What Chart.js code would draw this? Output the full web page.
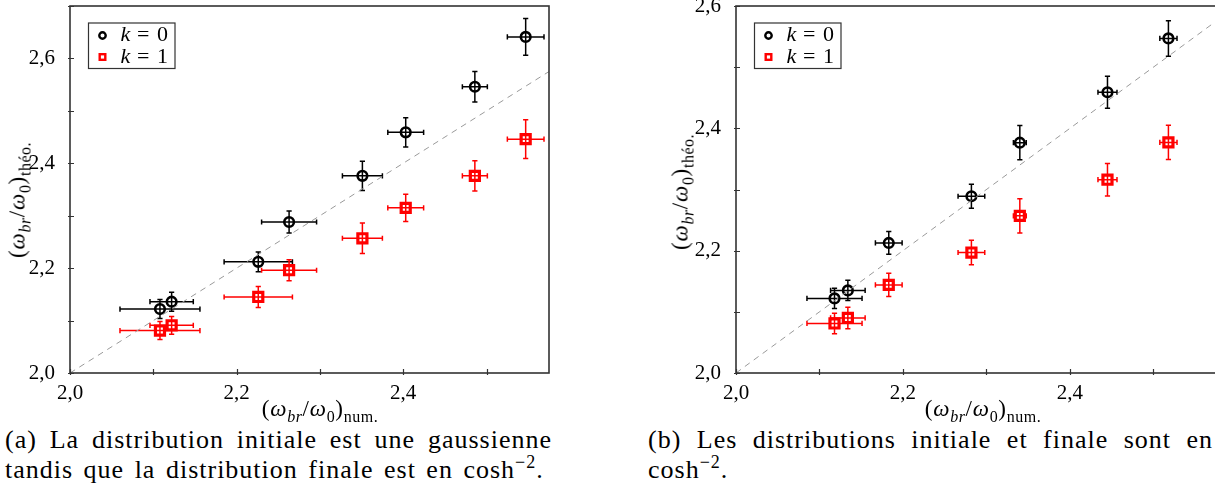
<!DOCTYPE html>
<html>
<head>
<meta charset="utf-8">
<script src="https://cdn.jsdelivr.net/npm/chart.js@4"></script>
<style>
  html, body { margin: 0; padding: 0; background: #fff; }
  body { width: 1215px; height: 502px; overflow: hidden; position: relative; font-family: 'Liberation Serif', serif; color: #000; }
  canvas { position: absolute; }
  .axis-title { position: absolute; font-size: 23px; line-height: 1; white-space: nowrap; letter-spacing: 0.8px; }
  .axis-title .sub { font-size: 16px; position: relative; top: 6px; letter-spacing: 0.5px; }
  .ytitle { transform: translate(-50%, -50%) rotate(-90deg); }
  .xtitle { transform: translate(-50%, -50%); }
  .caption { position: absolute; font-size: 26px; line-height: 30px; letter-spacing: 1px; word-spacing: 3px; }
  .caption div { white-space: nowrap; }
  .caption .just { text-align: justify; text-align-last: justify; white-space: normal; }
  sup { font-size: 18px; line-height: 0; }
</style>
</head>
<body>

<canvas id="chartA" width="580" height="440" style="left:0; top:-20px;"></canvas>
<canvas id="chartB" width="600" height="440" style="left:640px; top:-20px;"></canvas>

<div class="axis-title ytitle" style="left:17px; top:200px;">(<i>ω</i><span class="sub"><i>br</i></span>/<i>ω</i><span class="sub">0</span>)<span class="sub">théo.</span></div>
<div class="axis-title xtitle" style="left:320px; top:408px;">(<i>ω</i><span class="sub"><i>br</i></span>/<i>ω</i><span class="sub">0</span>)<span class="sub">num.</span></div>
<div class="axis-title ytitle" style="left:680px; top:192px;">(<i>ω</i><span class="sub"><i>br</i></span>/<i>ω</i><span class="sub">0</span>)<span class="sub">théo.</span></div>
<div class="axis-title xtitle" style="left:983px; top:408px;">(<i>ω</i><span class="sub"><i>br</i></span>/<i>ω</i><span class="sub">0</span>)<span class="sub">num.</span></div>

<div class="caption" style="left:5px; top:425px; width:547px;">
  <div class="just">(a) La distribution initiale est une gaussienne</div>
  <div>tandis que la distribution finale est en cosh<sup>−2</sup>.</div>
</div>
<div class="caption" style="left:648px; top:425px; width:565px;">
  <div class="just">(b) Les distributions initiale et finale sont en</div>
  <div>cosh<sup>−2</sup>.</div>
</div>

<script>
// Panel (a): gaussian initial distribution, cosh^-2 final
const numA = [2.108, 2.122, 2.226, 2.263, 2.351, 2.403, 2.486, 2.547];
const numErrA = [0.048, 0.026, 0.041, 0.033, 0.024, 0.0215, 0.015, 0.022];
const theoK0A = [2.122, 2.136, 2.212, 2.288, 2.376, 2.459, 2.546, 2.641];
const theoErrK0A = [0.018, 0.018, 0.019, 0.021, 0.028, 0.028, 0.029, 0.035];
const theoK1A = [2.081, 2.091, 2.145, 2.196, 2.257, 2.315, 2.376, 2.446];
const theoErrK1A = [0.017, 0.017, 0.020, 0.020, 0.029, 0.026, 0.029, 0.037];

// Panel (b): cosh^-2 initial and final
const numB = [2.118, 2.134, 2.183, 2.282, 2.340, 2.445, 2.518];
const numErrB = [0.033, 0.0207, 0.016, 0.016, 0.0077, 0.0114, 0.0103];
const theoK0B = [2.122, 2.135, 2.2126, 2.289, 2.3765, 2.459, 2.547];
const theoErrK0B = [0.0165, 0.0165, 0.0186, 0.0197, 0.028, 0.026, 0.029];
const theoK1B = [2.081, 2.090, 2.144, 2.197, 2.257, 2.316, 2.377];
const theoErrK1B = [0.0167, 0.0175, 0.019, 0.020, 0.028, 0.0265, 0.028];

// y = x reference line
const diagonal = [2.0, 2.575];

const legendLabels = ['0', '1'];
const RED = '#ff0000';
const FONT = "'Liberation Serif', serif";

// error bars, drawn through each marker
const errorBars = {
    id: 'errorBars',
    beforeDatasetsDraw(chart) {
        const { ctx, scales: { x, y } } = chart;
        ctx.save();
        chart.data.datasets.forEach(ds => {
            if (!ds.errors) return;
            ctx.strokeStyle = ds.borderColor;
            ctx.lineWidth = 1.5;
            ds.data.forEach((p, i) => {
                const ex = ds.errors.x[i], ey = ds.errors.y[i];
                const px = x.getPixelForValue(p.x), py = y.getPixelForValue(p.y);
                const x1 = x.getPixelForValue(p.x - ex), x2 = x.getPixelForValue(p.x + ex);
                const y1 = y.getPixelForValue(p.y - ey), y2 = y.getPixelForValue(p.y + ey);
                const cap = 2.6;
                ctx.beginPath();
                ctx.moveTo(x1, py); ctx.lineTo(x2, py);
                ctx.moveTo(x1, py - cap); ctx.lineTo(x1, py + cap);
                ctx.moveTo(x2, py - cap); ctx.lineTo(x2, py + cap);
                ctx.moveTo(px, y1); ctx.lineTo(px, y2);
                ctx.moveTo(px - cap, y1); ctx.lineTo(px + cap, y1);
                ctx.moveTo(px - cap, y2); ctx.lineTo(px + cap, y2);
                ctx.stroke();
            });
        });
        ctx.restore();
    }
};

// box frame, inward ticks and the in-plot legend
const frameAndLegend = {
    id: 'frameAndLegend',
    afterDraw(chart) {
        const { ctx, chartArea: a, scales: { x, y } } = chart;
        ctx.save();
        ctx.strokeStyle = '#333';
        ctx.lineWidth = 1.6;
        ctx.strokeRect(a.left, a.top, a.right - a.left, a.bottom - a.top);

        ctx.lineWidth = 1.2;
        ctx.beginPath();
        x.ticks.forEach(t => {
            const px = Math.round(x.getPixelForValue(t.value)) + 0.5;
            ctx.moveTo(px, a.bottom + 2); ctx.lineTo(px, a.bottom - 4);
        });
        y.ticks.forEach(t => {
            const py = Math.round(y.getPixelForValue(t.value)) + 0.5;
            ctx.moveTo(a.left - 2, py); ctx.lineTo(a.left + 4, py);
        });
        ctx.stroke();

        // legend box
        const bx = a.left + 18.5, by = a.top + 17, bw = 86.5, bh = 45.5;
        ctx.fillStyle = '#fff';
        ctx.fillRect(bx, by, bw, bh);
        ctx.strokeStyle = '#333';
        ctx.lineWidth = 1.2;
        ctx.strokeRect(bx, by, bw, bh);

        const rows = [by + 12.5, by + 34];
        // k = 0 marker
        ctx.strokeStyle = '#000';
        ctx.lineWidth = 2.4;
        ctx.beginPath();
        ctx.arc(bx + 14, rows[0], 3.2, 0, Math.PI * 2);
        ctx.stroke();
        // k = 1 marker
        ctx.strokeStyle = RED;
        ctx.strokeRect(bx + 11.2, rows[1] - 2.8, 5.6, 5.6);

        ctx.fillStyle = '#000';
        ctx.textBaseline = 'middle';
        legendLabels.forEach((lab, i) => {
            ctx.font = 'italic 22px ' + FONT;
            ctx.fillText('k', bx + 32, rows[i]);
            ctx.font = '22px ' + FONT;
            ctx.fillText('=', bx + 48.5, rows[i]);
            ctx.fillText(lab, bx + 68.5, rows[i]);
        });
        ctx.restore();
    }
};

const tickLabel = v => Math.round(v * 10) % 2 === 0 ? v.toFixed(1).replace('.', ',') : '';

function makePanel(id, xs, xErr, y0, yErr0, y1, yErr1, yMax, yAxisWidth, padRight) {
    return new Chart(document.getElementById(id), {
        type: 'scatter',
        data: {
            datasets: [
                {
                    type: 'line',
                    data: diagonal.map(v => ({ x: v, y: v })),
                    borderColor: '#9a9a9a',
                    borderWidth: 1,
                    borderDash: [6, 5],
                    pointRadius: 0,
                    fill: false
                },
                {
                    label: 'k = 0',
                    data: xs.map((v, i) => ({ x: v, y: y0[i] })),
                    errors: { x: xErr, y: yErr0 },
                    pointStyle: 'circle',
                    pointRadius: 4.8,
                    borderWidth: 2.6,
                    borderColor: '#000',
                    backgroundColor: 'rgba(0,0,0,0)'
                },
                {
                    label: 'k = 1',
                    data: xs.map((v, i) => ({ x: v, y: y1[i] })),
                    errors: { x: xErr, y: yErr1 },
                    pointStyle: 'rect',
                    pointRadius: 6.4,
                    borderWidth: 3.2,
                    borderColor: RED,
                    backgroundColor: 'rgba(0,0,0,0)'
                }
            ]
        },
        options: {
            responsive: false,
            animation: false,
            devicePixelRatio: 1,
            layout: { padding: { top: 26, right: padRight, left: 0, bottom: 0 } },
            plugins: { legend: { display: false }, tooltip: { enabled: false } },
            scales: {
                x: {
                    type: 'linear',
                    min: 2.0,
                    max: 2.575,
                    grid: { display: false },
                    border: { display: false },
                    ticks: {
                        stepSize: 0.1,
                        includeBounds: false,
                        autoSkip: false,
                        maxRotation: 0,
                        padding: 0,
                        color: '#000',
                        font: { family: FONT, size: 21 },
                        callback: tickLabel
                    },
                    afterFit: s => { s.height = 47; }
                },
                y: {
                    type: 'linear',
                    min: 2.0,
                    max: yMax,
                    grid: { display: false },
                    border: { display: false },
                    ticks: {
                        stepSize: 0.1,
                        includeBounds: false,
                        autoSkip: false,
                        padding: 7,
                        color: '#000',
                        font: { family: FONT, size: 21 },
                        callback: tickLabel
                    },
                    afterFit: s => { s.width = yAxisWidth; }
                }
            }
        },
        plugins: [errorBars, frameAndLegend]
    });
}

makePanel('chartA', numA, numErrA, theoK0A, theoErrK0A, theoK1A, theoErrK1A, 2.7, 70, 31);
makePanel('chartB', numB, numErrB, theoK0B, theoErrK0B, theoK1B, theoErrK1B, 2.6, 96, 24);
</script>
</body>
</html>
